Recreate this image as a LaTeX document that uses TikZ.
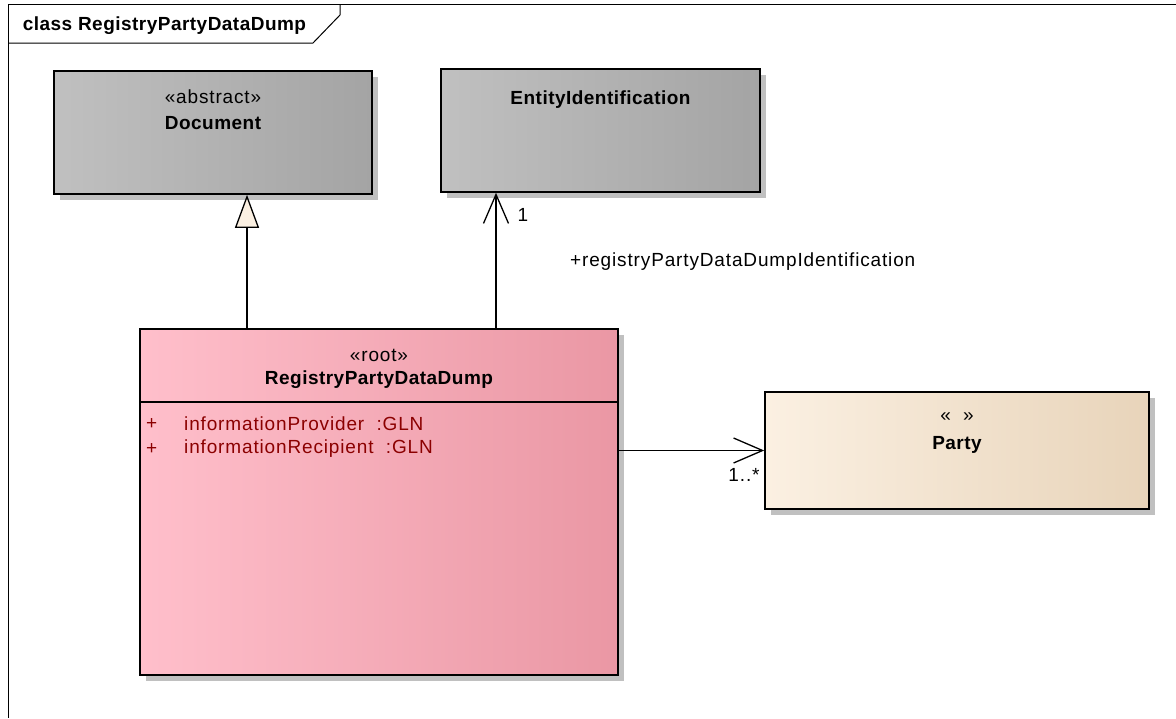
\documentclass[tikz,border=0pt]{standalone}
\usepackage{fontspec}
\setmainfont{Liberation Sans}[LetterSpace=4.5, BoldFeatures={LetterSpace=2.5}]
\usetikzlibrary{arrows.meta,shadows}
\definecolor{boxgray}{HTML}{C0C0C0}
\definecolor{boxgraydark}{HTML}{A4A4A4}
\definecolor{rootpink}{HTML}{FFBFCB}
\definecolor{rootpinkdark}{HTML}{EA97A4}
\definecolor{partycream}{HTML}{FBF0E2}
\definecolor{partycreamdark}{HTML}{E8D4BA}
\definecolor{shadowgray}{HTML}{C0C0C0}
\definecolor{attrred}{HTML}{8B0000}
\tikzstyle{cls} = [draw=black, line width=1.6pt, rectangle, inner sep=0pt,
  general shadow={fill=shadowgray, shadow xshift=6pt, shadow yshift=-6pt}]
\tikzstyle{grayclass} = [cls, left color=boxgray, middle color=boxgray, right color=boxgraydark]
\tikzstyle{pinkclass} = [cls, left color=rootpink, middle color=rootpink, right color=rootpinkdark]
\tikzstyle{creamclass} = [cls, left color=partycream, middle color=partycream, right color=partycreamdark]
\tikzstyle{txt} = [inner sep=0pt, font=\fontsize{19}{22}\selectfont]
\tikzstyle{cname} = [inner sep=0pt, font=\fontsize{19}{22}\selectfont\bfseries]
\tikzstyle{attr} = [txt, text=attrred, anchor=west]
\tikzstyle{gen} = [line width=1.3pt, -{Triangle[length=33pt, width=24pt, fill=partycream]}]
\tikzstyle{assoc} = [line width=1.3pt, -{Straight Barb[length=29pt, width=25pt]}]

\begin{document}
\begin{tikzpicture}[x=1pt, y=-1pt]
  \useasboundingbox (0,0) rectangle (1176,718);
  % frame
  \draw [line width=1pt] (1176,4) -- (8,4) -- (8,718);
  \draw [line width=1pt] (8,43) -- (313,43) -- (340,15) -- (340,4);
  \node (title) at (164.5,26) [cname] {class RegistryPartyDataDump};

  \node (doc) at (213,132.5) [grayclass, minimum width=318pt, minimum height=123pt] {};
  \node (ent) at (600.5,130.5) [grayclass, minimum width=319pt, minimum height=123pt] {};
  \node (reg) at (379,502) [pinkclass, minimum width=478pt, minimum height=346pt] {};
  \node (party) at (957,450.5) [creamclass, minimum width=384pt, minimum height=117pt] {};

  \node (docst) at (213,97) [txt] {«abstract»};
  \node (docnm) at (213,123) [cname] {Document};
  \node (entnm) at (600.5,100) [cname] {EntityIdentification};
  \node (regst) at (379,355) [txt] {«root»};
  \node (regnm) at (379,380) [cname] {RegistryPartyDataDump};
  \draw [line width=1.2pt] (reg.west |- 0,402) -- (reg.east |- 0,402);
  \node (pl1) at (146,424) [attr] {+};
  \node (att1) at (184,424) [attr] {informationProvider\ \ :GLN};
  \node (pl2) at (146,449) [attr] {+};
  \node (att2) at (184,449) [attr] {informationRecipient\ \ :GLN};
  \node (partyst) at (957,417) [txt] {«\ \ »};
  \node (partynm) at (957,445) [cname] {Party};

  \draw [gen] ([xshift=-132pt]reg.north) -- ([xshift=34pt]doc.south);
  \draw [assoc] ([xshift=117pt]reg.north) -- ([xshift=-104.5pt]ent.south);
  \node (m1) at (523,215) [txt] {1};
  \node (role) at (570,262) [txt, anchor=west] {+registryPartyDataDumpIdentification};
  \draw [assoc] (reg.east |- party.west) -- (party.west);
  \node (m2) at (744,475) [txt] {1..*};
\end{tikzpicture}
\end{document}
